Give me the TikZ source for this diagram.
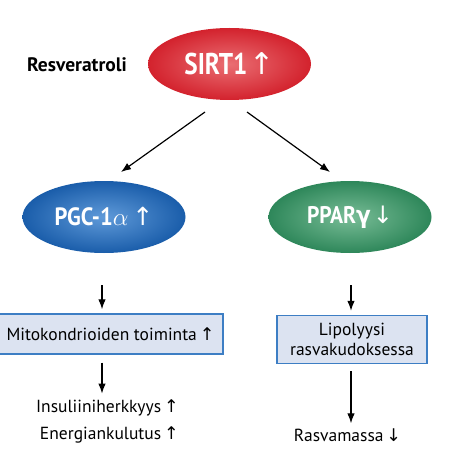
\documentclass[tikz,border=0pt]{standalone}
\usepackage{fontspec}
\setmainfont{PT Sans}
\newfontfamily\arrfont{DejaVu Sans}
\usetikzlibrary{shapes.geometric,arrows.meta}
\definecolor{sredout}{HTML}{D3222D}
\definecolor{sredin}{HTML}{EA6E73}
\definecolor{sblueout}{HTML}{1A5DAA}
\definecolor{sbluein}{HTML}{5F9AD9}
\definecolor{sgreenout}{HTML}{2E875A}
\definecolor{sgreenin}{HTML}{79BD97}
\definecolor{boxline}{HTML}{3D7EC4}
\definecolor{boxfill}{HTML}{DCE3F1}
\begin{document}
\begin{tikzpicture}[x=1pt,y=-1pt,
  oval/.style={ellipse, minimum width=163pt, minimum height=72pt, inner sep=0pt, text=white, font=\bfseries},
  infobox/.style={draw=boxline, fill=boxfill, line width=1.4pt, inner sep=0pt, align=center, font=\fontsize{17.5}{20}\selectfont},
  plain/.style={inner sep=0pt, font=\fontsize{17.5}{20}\selectfont},
  conn/.style={-{Latex[length=10pt,width=7.5pt]}, line width=1.2pt}]
\useasboundingbox (0,0) rectangle (448,457);
% ellipses
\node[oval, inner color=sredin, outer color=sredout] (sirt) at (229.5,64)
  {\fontsize{30}{32}\selectfont\scalebox{0.84}[1]{SIRT1}\hspace{2pt}{\arrfont\mdseries ↑}};
\node[inner sep=0pt, font=\bfseries\fontsize{19.5}{22}\selectfont] (resv) at (77,65) {Resveratroli};
\node[oval, inner color=sbluein, outer color=sblueout] (pgc) at (104,217)
  {\fontsize{25}{28}\selectfont\scalebox{0.9}[1]{PGC-1}$\alpha$\hspace{4pt}{\arrfont\mdseries ↑}};
\node[oval, inner color=sgreenin, outer color=sgreenout] (ppar) at (350,217)
  {\fontsize{24}{27}\selectfont\scalebox{0.9}[1]{PPAR{\arrfont γ}}\hspace{2pt}{\arrfont\mdseries ↓}};
% boxes
\node[infobox, minimum width=225pt, minimum height=40pt] (mito) at (110.5,334)
  {Mitokondrioiden toiminta\,{\arrfont ↑}};
\node[infobox, minimum width=150pt, minimum height=48pt] (lipo) at (352,339.5)
  {Lipolyysi\\rasvakudoksessa};
% outcome texts
\node[plain, anchor=east] (insu) at (179,408) {Insuliiniherkkyys\,{\arrfont ↑}};
\node[plain, anchor=east] (ener) at (179,435) {Energiankulutus\,{\arrfont ↑}};
\node[plain] (rasva) at (347.5,435) {Rasvamassa\,{\arrfont ↓}};
% connectors
\coordinate (sl) at (205,112);
\coordinate (pl) at (121,172);
\coordinate (sr) at (247,112);
\coordinate (pr) at (330,172);
\draw[conn] (sl) -- (pl);
\draw[conn] (sr) -- (pr);
\draw[conn, shorten <=32pt, shorten >=4pt] (pgc.south -| 102,0) -- (mito.north -| 102,0);
\draw[conn, shorten <=32pt, shorten >=4pt] (ppar.south -| 351,0) -- (lipo.north -| 351,0);
\draw[conn, shorten <=8pt, shorten >=6pt] (mito.south -| 102,0) -- (insu.north -| 102,0);
\draw[conn, shorten <=7pt, shorten >=5pt] (lipo.south -| 351,0) -- (rasva.north -| 351,0);
\end{tikzpicture}
\end{document}
